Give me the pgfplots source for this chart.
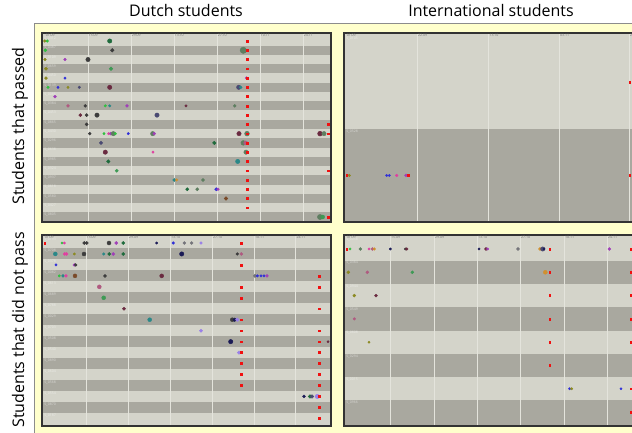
\documentclass[border=0pt]{standalone}
\usepackage{pgfplots}
\pgfplotsset{compat=1.18}
\usepackage{pgfplotstable}
\usepackage{fontspec}
\setmainfont{Open Sans}

\definecolor{bgyel}{HTML}{FFFFCC}
\definecolor{rowlight}{HTML}{D4D4CA}
\definecolor{rowdark}{HTML}{A9A89F}
\definecolor{gridc}{HTML}{E4E4DC}
\definecolor{cRed}{HTML}{F01010}
\definecolor{cOlive}{HTML}{8C8A22}
\definecolor{cGreen}{HTML}{30C040}
\definecolor{cGreenB}{HTML}{3E9A55}
\definecolor{cDkGreen}{HTML}{1F6B3C}
\definecolor{cDkGray}{HTML}{3C3C3C}
\definecolor{cGray}{HTML}{74747A}
\definecolor{cPurple}{HTML}{A040B8}
\definecolor{cBlue}{HTML}{3030D8}
\definecolor{cNavy}{HTML}{1A1A55}
\definecolor{cSlate}{HTML}{4A4A72}
\definecolor{cTeal}{HTML}{2A8888}
\definecolor{cMaroon}{HTML}{6A2A40}
\definecolor{cPink}{HTML}{E040A0}
\definecolor{cMauve}{HTML}{B05A80}
\definecolor{cGyGreen}{HTML}{5E7E60}
\definecolor{cLav}{HTML}{9A80E8}
\definecolor{cOrange}{HTML}{D09030}
\definecolor{cBrown}{HTML}{7A4A28}

% x = horizontal position in the panel, y = row, s = mark size, c = colour class
\pgfplotstableread{
x y s c
44.7 1 1.3 ol
47.3 1 1.3 gr
109.7 1 2.2 dg
247.3 1 0.9 r
45.3 2 1.5 gr
112.3 2 1.8 dk
243.3 2 3.2 gg
247.3 2 0.9 r
45 3 1.3 ol
65 3 1.3 pu
88 3 2.2 dk
247.3 3 0.9 r
46 4 1.6 ol
111 4 1.8 gb
247.3 4 0.9 r
46 5 1.5 ol
65 5 1.2 bl
246.5 5 1.4 pu
247.3 5 0.9 r
48 6 1.3 gr
58 6 1.2 bl
68 6 1.2 ol
79.3 6 1.3 sl
109.7 6 2.2 ma
238.7 6 2.2 sl
240.7 6 1.5 te
247.3 6 0.9 r
55 7 1.5 pu
247.3 7 0.9 r
68 8 1.5 mv
85.3 8 1.5 dk
105.3 8 1.3 gr
109.7 8 1.3 te
127 8 1.5 pu
186 8 1.3 ma
234.7 8 1.5 gg
247.3 8 0.9 r
80.3 9 1.6 ma
86.7 9 1.6 dk
97 9 2.2 dk
157 9 2.2 sl
247.3 9 0.9 r
86.7 10 1.6 dk
247.5 10 0.9 r
328 10 0.9 r
89.7 11 1.5 dk
104 11 1.2 gr
108.7 11 1.3 pk
110.7 11 1.5 pu
113.3 11 2.2 gg
115.3 11 1.3 gr
128.3 11 1.2 bl
152.7 11 2.2 gg
154.3 11 1.5 pu
239 11 2.2 ma
247 11 2.4 gg
247.5 11 0.9 r
320 11 2.4 ma
324 11 2.2 gg
328 11 0.9 r
101 12 1.8 sl
214.3 12 1.8 dg
243.3 12 2.4 gg
245.7 12 2 mv
247.5 12 0.9 r
105.3 13 2.2 ma
153 13 1.2 pk
246 13 2.2 gg
247.5 13 0.9 r
108.3 14 1.8 dg
237.7 14 2.2 te
247.5 14 0.9 r
116.7 15 1.6 gb
247.5 15 0.9 r
328 15 0.9 r
174.3 16 1.6 te
176.7 16 1.3 or
203 16 1.6 gg
247.5 16 0.9 r
187.3 17 1.6 dg
197.3 17 1.6 gg
216.3 17 1.6 bl
218 17 1.3 pu
247.5 17 0.9 r
226 18 1.8 br
247.5 18 0.9 r
247.5 19 0.9 r
320 20 2.6 gg
322.7 20 2 gb
328 20 0.9 r
}\tlData

\pgfplotstableread{
x y s c
629.7 1 0.9 r
346.7 2 0.9 r
349.3 2 1.3 ol
386.7 2 1.2 bl
389.3 2 1.2 bl
396.7 2 1.4 pk
406 2 1.5 pu
408 2 0.9 r
629.7 2 0.9 r
}\trData

\pgfplotstableread{
x y s c
44.7 1 0.9 r
62 1 1.2 gr
64.3 1 1.2 pk
84.3 1 1.6 dk
86.7 1 1.6 dk
109 1 2 dk
116.3 1 1.6 pu
123.3 1 1.6 dg
156.7 1 1.2 nv
173.3 1 1.4 bl
184.3 1 1.5 gy
191.7 1 1.5 gy
201 1 1.4 lv
241.3 1 0.9 r
55.3 2 2 te
64.7 2 1.5 pk
66.5 2 1.5 pk
74.3 2 1.2 ol
84 2 2 dk
103.7 2 1.3 te
109.3 2 1.6 dg
113.3 2 1.6 pu
123.3 2 1.6 dg
181.7 2 2.2 nv
237.3 2 1.4 dk
241.3 2 1.5 mv
56 3 1.2 bl
74.3 3 1.4 pu
75.7 3 1.4 dk
241.3 3 0.9 r
59.3 4 1.2 gr
63 4 1.4 te
66 4 1.4 pk
75 4 2 br
105 4 1.6 dk
161.7 4 2 ma
255 4 1.8 gy
257.3 4 1.3 bl
261 4 1.3 bl
264 4 1.3 bl
267 4 1.4 pu
319.3 4 0.9 r
99.3 5 2 mv
241.3 5 0.9 r
319.3 5 0.9 r
103.7 6 2 gb
241.3 6 0.9 r
124 7 1.7 ma
319.3 7 0.9 r
149.7 8 2 te
232.3 8 2 dk
234.7 8 1.8 nv
237.3 8 1.8 lv
241.3 8 0.9 r
201 9 1.6 lv
241.3 9 0.9 r
319.3 9 0.9 r
230.7 10 2.2 nv
241.3 10 0.9 r
319.3 10 0.9 r
328 10 1.1 ma
239 11 1.8 lv
241.3 11 0.9 r
319.3 11 0.9 r
241.3 12 0.9 r
319.3 12 0.9 r
241.3 13 0.9 r
319.3 13 0.9 r
241.3 14 0.9 r
319.3 14 0.9 r
304 15 1.5 nv
310 15 1.8 dg
312 15 1.8 sl
317.3 15 2.2 lv
319.3 15 0.9 r
319.3 16 0.9 r
319.3 17 0.9 r
}\blData

\pgfplotstableread{
x y s c
346.7 1 0.9 r
350 1 1.2 gr
360.3 1 1.5 gg
369 1 1.2 pk
372.3 1 1.5 mv
374.3 1 1.3 or
390.3 1 1.2 nv
405.3 1 1.2 dk
406.7 1 1.4 ma
479 1 1.2 nv
486 1 1.5 ma
487.7 1 1.2 pu
518 1 1.5 gy
540 1 1.5 or
542.7 1 2.2 sl
544 1 1.2 nv
549.7 1 0.9 r
609.3 1 1.5 pu
630.7 1 0.9 r
348.3 2 1.5 ol
367.3 2 1.5 mv
412.3 2 1.5 gb
545.3 2 2 or
549.7 2 0.9 r
630.7 2 0.9 r
354.3 3 1.5 ol
376 3 1.5 ma
549.7 3 0.9 r
630.7 3 0.9 r
354.3 4 1.3 mv
549.7 4 0.9 r
630.7 4 0.9 r
369 5 1.1 ol
549.7 5 0.9 r
630.7 5 0.9 r
549.7 6 0.9 r
569.7 7 1.2 bl
571.7 7 1.2 ol
621 7 1.1 bl
630.7 7 0.9 r
630.7 8 0.9 r
}\brData

\pgfplotsset{
  panel/.style={
    scale only axis, anchor=north west, y dir=reverse,
    axis on top,
    axis background/.style={fill=rowlight},
    axis line style={draw=black!80, line width=1.5pt},
    xticklabel pos=upper,
    yticklabel pos=left,
    major tick length=0pt,
    xticklabel style={anchor=north west, font=\fontsize{3.5}{4}\selectfont,
      text=black!55, inner sep=0.6pt},
    yticklabel style={anchor=north west, font=\fontsize{3.5}{4}\selectfont,
      text=white, opacity=0.55, inner sep=0.6pt, xshift=1.5pt},
  },
  dots/.style={
    scatter, only marks, point meta=explicit symbolic,
    scatter/classes={
      r={mark=square*,cRed}, ol={mark=*,cOlive}, gr={mark=*,cGreen},
      gb={mark=*,cGreenB}, dg={mark=*,cDkGreen}, dk={mark=*,cDkGray},
      gy={mark=*,cGray}, pu={mark=*,cPurple}, bl={mark=*,cBlue},
      nv={mark=*,cNavy}, sl={mark=*,cSlate}, te={mark=*,cTeal},
      ma={mark=*,cMaroon}, pk={mark=*,cPink}, mv={mark=*,cMauve},
      gg={mark=*,cGyGreen}, lv={mark=*,cLav}, or={mark=*,cOrange},
      br={mark=*,cBrown}},
    visualization depends on={\thisrow{s}\as\msz},
    scatter/@pre marker code/.append style={/tikz/mark size=\msz,
      /tikz/opacity=0.85, /tikz/line width=0.2pt},
  },
}

\begin{document}
\begin{tikzpicture}
\path[use as bounding box] (0,0) rectangle (632pt,-432pt);
\clip (0,0) rectangle (632pt,-432pt);
\fill[white] (0,0) rectangle (632pt,-432pt);
\filldraw[fill=bgyel, draw=black!45, line width=0.8pt] (34.5pt,-23.5pt) rectangle (650pt,-440pt);

\node[anchor=base, font=\fontsize{16}{18}\selectfont] at (186pt,-16pt) {Dutch students};
\node[anchor=base, font=\fontsize{16}{18}\selectfont] at (491pt,-16pt) {International students};
\node[anchor=base, rotate=90, font=\fontsize{16}{18}\selectfont] at (24pt,-126pt) {Students that passed};
\node[anchor=base, rotate=90, font=\fontsize{16}{18}\selectfont] at (24pt,-330pt) {Students that did not pass};

% Dutch, passed
\begin{axis}[panel, at={(42pt,-33pt)}, width=289pt, height=189pt,
  xmin=42, xmax=331, ymin=0.136, ymax=20.54,
  xtick={45,88,131,174,217,260,303},
  xticklabels={01.09,15.09,29.09,13.10,27.10,10.11,24.11},
  ytick={0.5,1.5,...,19.5},
  yticklabels={S\_0312,S\_0487,S\_0109,S\_0659,S\_0450,S\_0139,S\_0086,S\_0384,S\_0453,S\_0865,
    S\_0430,S\_0296,S\_0638,S\_0985,S\_0324,S\_0937,S\_0618,S\_0580,S\_0427,S\_0805}]
\pgfplotsinvokeforeach{2,4,6,8,10,12,14,16,18,20}{
  \fill[rowdark] (axis cs:40,#1-0.5) rectangle (axis cs:335,#1+0.5);}
\pgfplotsinvokeforeach{88,131,174,217,260,303}{
  \draw[gridc, line width=0.8pt] (axis cs:#1,0) -- (axis cs:#1,21);}
\addplot[dots] table[x=x, y=y, meta=c] {\tlData};
\end{axis}

% International, passed
\begin{axis}[panel, at={(344pt,-33pt)}, width=301pt, height=189pt,
  xmin=344, xmax=645, ymin=0.47, ymax=2.5,
  xtick={346,417.3,488.7,559.3,629.3},
  xticklabels={01.09,22.09,13.10,03.11,24.11},
  ytick={0.5,1.5},
  yticklabels={S\_0105,S\_0528}]
\fill[rowdark] (axis cs:340,1.5) rectangle (axis cs:650,2.6);
\pgfplotsinvokeforeach{417.3,488.7,559.3,629.3}{
  \draw[gridc, line width=0.8pt] (axis cs:#1,0) -- (axis cs:#1,3);}
\addplot[dots] table[x=x, y=y, meta=c] {\trData};
\end{axis}

% Dutch, not passed
\begin{axis}[panel, at={(42pt,-235pt)}, width=289pt, height=191pt,
  xmin=42, xmax=331, ymin=0.27, ymax=17.7,
  xtick={44,86,128.3,170.3,212.3,254.3,295.7},
  xticklabels={01.09,15.09,29.09,13.10,27.10,10.11,24.11},
  ytick={0.5,1.5,...,16.5},
  yticklabels={S\_0193,S\_0708,S\_0378,S\_0082,S\_0613,S\_0689,S\_0788,S\_0029,S\_0703,
    S\_0508,S\_0540,S\_0890,S\_0604,S\_0568,S\_0554,S\_0870,S\_0187}]
\pgfplotsinvokeforeach{2,4,6,8,10,12,14,16}{
  \fill[rowdark] (axis cs:40,#1-0.5) rectangle (axis cs:335,#1+0.5);}
\pgfplotsinvokeforeach{86,128.3,170.3,212.3,254.3,295.7}{
  \draw[gridc, line width=0.8pt] (axis cs:#1,0) -- (axis cs:#1,18);}
\addplot[dots] table[x=x, y=y, meta=c] {\blData};
\end{axis}

% International, not passed
\begin{axis}[panel, at={(344pt,-235pt)}, width=301pt, height=191pt,
  xmin=344, xmax=645, ymin=0.4, ymax=8.6,
  xtick={346,390.3,434.3,477.3,520.3,564.3,607.3},
  xticklabels={01.09,15.09,29.09,13.10,27.10,10.11,24.11},
  ytick={0.5,1.5,...,7.5},
  yticklabels={S\_0058,S\_0384,S\_0944,S\_0549,S\_0808,S\_0294,S\_0015,S\_0966}]
\pgfplotsinvokeforeach{2,4,6}{
  \fill[rowdark] (axis cs:340,#1-0.5) rectangle (axis cs:650,#1+0.5);}
\fill[rowdark] (axis cs:340,7.5) rectangle (axis cs:650,9);
\pgfplotsinvokeforeach{390.3,434.3,477.3,520.3,564.3,607.3}{
  \draw[gridc, line width=0.8pt] (axis cs:#1,0) -- (axis cs:#1,9);}
\addplot[dots] table[x=x, y=y, meta=c] {\brData};
\end{axis}
\end{tikzpicture}
\end{document}
